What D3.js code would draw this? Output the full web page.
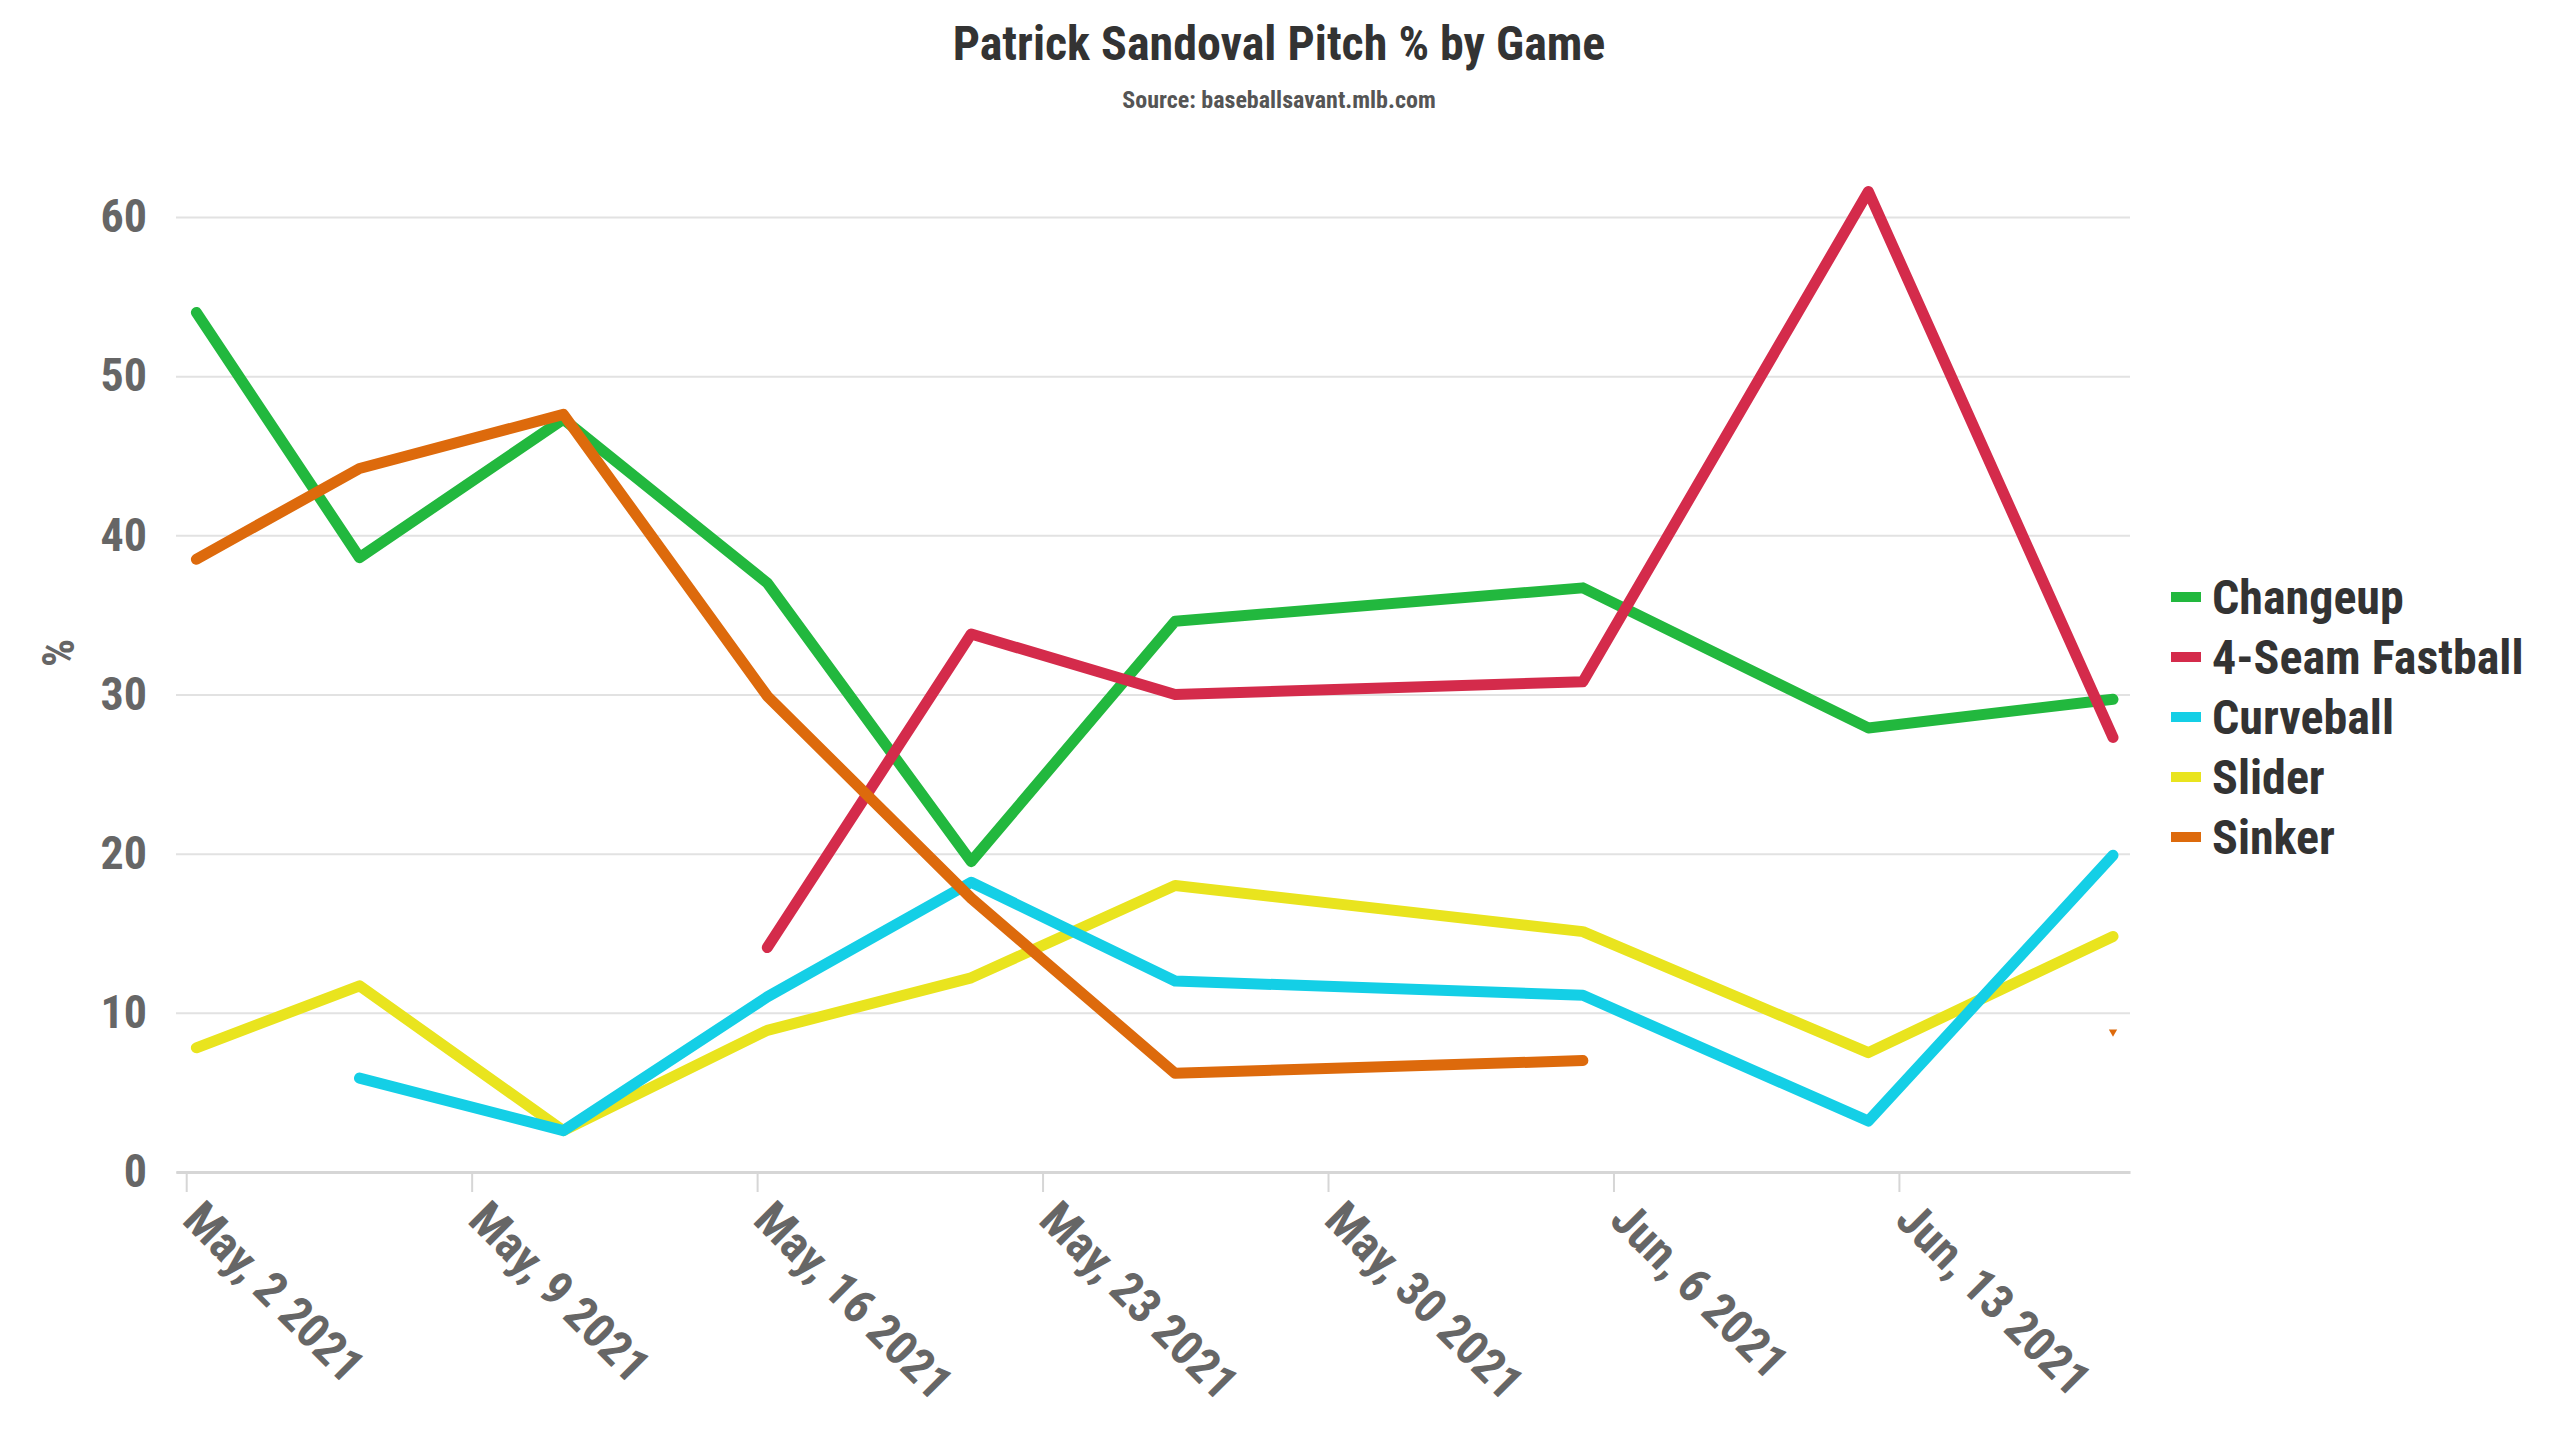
<!DOCTYPE html>
<html>
<head>
<meta charset="utf-8">
<script src="https://cdn.jsdelivr.net/npm/d3@7"></script>
<style>
  body { margin: 0; background: #fff; }
  svg { display: block; }
  text { font-family: "Roboto Condensed", "Liberation Sans Narrow", "DejaVu Sans Condensed", Roboto, sans-serif; font-weight: bold; }
</style>
</head>
<body>
<svg></svg>
<script>
// datos
var dates = ["2021-05-02", "2021-05-06", "2021-05-11", "2021-05-16", "2021-05-21",
             "2021-05-26", "2021-06-05", "2021-06-12", "2021-06-18"];
var seriesNames = ["Changeup", "4-Seam Fastball", "Curveball", "Slider", "Sinker"];
var changeup  = [54.0, 38.6, 47.3, 37.0, 19.5, 34.6, 36.7, 27.9, 29.7];
var fourSeam  = [null, null, null, 14.1, 33.8, 30.0, 30.8, 61.6, 27.3];
var curveball = [null, 5.9, 2.6, 11.0, 18.2, 12.0, 11.1, 3.2, 19.9];
var slider    = [7.8, 11.7, 2.6, 8.9, 12.2, 18.0, 15.1, 7.5, 14.8];
var sinker    = [38.5, 44.2, 47.6, 29.9, 17.2, 6.2, 7.0, null, 8.8];
var colors = ["#22b83e", "#d42b4b", "#14cfe6", "#e9e41e", "#dd6a0c"];
var yTicks = [0, 10, 20, 30, 40, 50, 60];

var W = 2560, H = 1440;
var margin = { top: 217, right: 430, bottom: 268, left: 176 };

var svg = d3.select("svg")
    .attr("width", W)
    .attr("height", H);

var parse = d3.timeParse("%Y-%m-%d");
var days = dates.map(function(d) { return d3.timeHour.offset(parse(d), 6); });

var x = d3.scaleTime()
    .domain([d3.timeHour.offset(parse("2021-05-02"), -6), d3.timeHour.offset(parse("2021-06-18"), 16)])
    .range([margin.left, W - margin.right]);

var y = d3.scaleLinear()
    .domain([0, 60])
    .range([H - margin.bottom, margin.top]);

// titulo
svg.append("text")
    .attr("x", 1279).attr("y", 60)
    .attr("text-anchor", "middle")
    .attr("font-size", 48)
    .attr("fill", "#333")
    .text("Patrick Sandoval Pitch % by Game");

svg.append("text")
    .attr("x", 1279).attr("y", 108)
    .attr("text-anchor", "middle")
    .attr("font-size", 24)
    .attr("fill", "#555")
    .text("Source: baseballsavant.mlb.com");

// eje y con lineas de rejilla
var yAxis = svg.append("g")
    .attr("transform", "translate(" + margin.left + ",0)")
    .call(d3.axisLeft(y)
        .tickValues(yTicks)
        .tickSize(-(W - margin.left - margin.right))
        .tickPadding(29));
yAxis.select(".domain").remove();
yAxis.selectAll("line")
    .attr("stroke", "#e2e2e2")
    .attr("stroke-width", 2);
yAxis.selectAll("text")
    .attr("font-size", 46)
    .attr("fill", "#666")
    .attr("font-family", null);

svg.append("text")
    .attr("transform", "translate(62,653) rotate(-90)")
    .attr("text-anchor", "middle")
    .attr("dominant-baseline", "middle")
    .attr("font-size", 44)
    .attr("fill", "#666")
    .text("%");

// eje x, una marca por semana
var xAxis = svg.append("g")
    .attr("transform", "translate(0," + y(0) + ")")
    .call(d3.axisBottom(x)
        .ticks(d3.timeWeek.every(1))
        .tickFormat(d3.timeFormat("%b, %-d %Y"))
        .tickSize(20)
        .tickSizeOuter(0));
xAxis.select(".domain")
    .attr("stroke", "#d6d6d6")
    .attr("stroke-width", 3);
xAxis.selectAll(".tick line")
    .attr("stroke", "#d6d6d6")
    .attr("stroke-width", 2);
xAxis.selectAll(".tick text")
    .attr("x", 0).attr("y", 0).attr("dy", null)
    .attr("transform", "translate(-6,50) rotate(45)")
    .attr("text-anchor", "start")
    .attr("font-size", 48)
    .attr("fill", "#666")
    .attr("font-family", null);

// lineas
var allSeries = [changeup, fourSeam, curveball, slider, sinker];
var order = [0, 1, 3, 2, 4];

function isolated(vals, i) {
    var prev = i > 0 ? vals[i - 1] : null;
    var next = i < vals.length - 1 ? vals[i + 1] : null;
    return vals[i] != null && prev == null && next == null;
}

order.forEach(function(k) {
    var vals = allSeries[k];
    var line = d3.line()
        .defined(function(d, i) { return d != null && !isolated(vals, i); })
        .x(function(d, i) { return x(days[i]); })
        .y(function(d) { return y(d); });

    svg.append("path")
        .attr("d", line(vals))
        .attr("fill", "none")
        .attr("stroke", colors[k])
        .attr("stroke-width", 11)
        .attr("stroke-linejoin", "round")
        .attr("stroke-linecap", "round");

    // puntos aislados (sin vecinos) se ven como un triangulito
    vals.forEach(function(v, i) {
        if (!isolated(vals, i)) return;
        svg.append("path")
            .attr("d", d3.symbol(d3.symbolTriangle, 30)())
            .attr("transform", "translate(" + x(days[i]) + "," + y(v) + ") rotate(180)")
            .attr("fill", colors[k]);
    });
});

// leyenda
var legend = svg.append("g")
    .attr("transform", "translate(2171,597)");

var item = legend.selectAll("g")
    .data(seriesNames)
    .enter().append("g")
    .attr("transform", function(d, i) { return "translate(0," + i * 60 + ")"; });

item.append("rect")
    .attr("x", 0).attr("y", -5)
    .attr("width", 30).attr("height", 10)
    .attr("fill", function(d, i) { return colors[i]; });

item.append("text")
    .attr("x", 41).attr("y", 0)
    .attr("dominant-baseline", "central")
    .attr("font-size", 48)
    .attr("fill", "#333")
    .text(function(d) { return d; });
</script>
</body>
</html>
